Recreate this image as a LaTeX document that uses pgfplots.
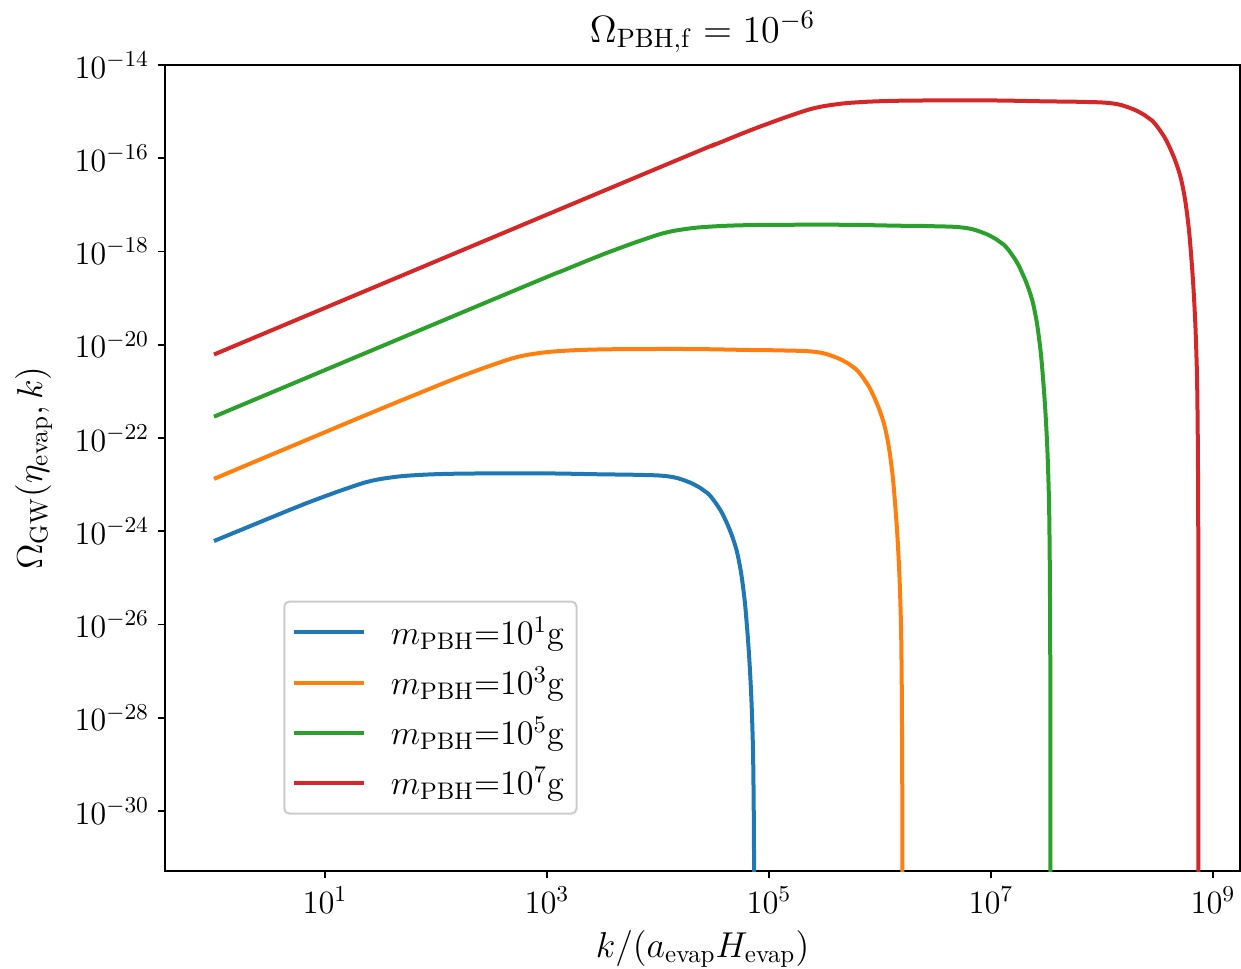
\RequirePackage{fix-cm}
\documentclass[border=0pt]{standalone}
\usepackage{pgfplots}
\pgfplotsset{compat=1.18}
\usetikzlibrary{calc}
\definecolor{c0}{HTML}{1F77B4}
\definecolor{c1}{HTML}{FF7F0E}
\definecolor{c2}{HTML}{2CA02C}
\definecolor{c3}{HTML}{D62728}
\begin{document}
\begin{tikzpicture}
\begin{axis}[
  name=ax,
  at={(0,0)}, anchor=south west,
  scale only axis,
  width=430pt, height=322.4pt,
  xmode=log, ymode=log,
  xmin=0.362, xmax=1.75e9,
  ymin=5.15e-32, ymax=1e-14,
  xtick={10,1000,100000,10000000,1000000000},
  ytick={1e-30,1e-28,1e-26,1e-24,1e-22,1e-20,1e-18,1e-16,1e-14},
  xminorticks=false, yminorticks=false,
  xtick pos=bottom, ytick pos=left,
  tick align=outside,
  major tick length=2.8pt,
  every tick/.style={black, line width=0.64pt},
  axis line style={line width=0.8pt},
  tick label style={font=\fontsize{13}{15}\selectfont},
  label style={font=\fontsize{14.4}{17}\selectfont},
  ylabel style={yshift=2pt},
  title style={font=\fontsize{15.2}{18}\selectfont, at={(0.5,1)}, anchor=base, yshift=3.2pt},
  title={$\Omega_{\rm PBH,f} = 10^{-6}$},
  xlabel={$k/(a_{\rm evap}H_{\rm evap})$},
  ylabel={$\Omega_{\rm GW}(\eta_{\rm evap}, k)$},
  legend style={at={(0.11,0.07)}, anchor=south west, draw=black!20,
    rounded corners=2pt, line width=0.8pt, inner ysep=4pt, inner xsep=3pt,
    font=\fontsize{13.7}{16}\selectfont, row sep=3.4pt},
  legend cell align=left,
  legend image code/.code={\draw[#1] (0pt,0pt) -- (28pt,0pt); \path (36pt,0pt);},
  every axis plot/.append style={line width=1.6pt, smooth, tension=0.7},
]
\addplot[c0] coordinates {
(1,6.166e-25) (3.162,1.905e-24) (6.310,3.715e-24) (10,5.623e-24)
(15.85,8.318e-24) (25.12,1.175e-23) (39.81,1.429e-23) (63.10,1.585e-23)
(125.9,1.698e-23) (316.2,1.738e-23) (1000,1.738e-23) (3162,1.660e-23)
(6310,1.622e-23) (12023,1.514e-23) (17783,1.202e-23) (23988,8.511e-24)
(28184,6.457e-24) (33884,3.715e-24) (39811,1.905e-24) (47863,6.457e-25)
(53703,2.239e-25) (58884,5.370e-26) (63096,1.0e-26) (67608,8.913e-28)
(70795,6.310e-29) (72444,3.981e-30) (73451,3.162e-32) (73790,1.0e-34)
};
\addlegendentry{$m_{\rm PBH}$=$10^{1}$g}
\addplot[c1] coordinates {
(1,1.327e-23) (21.54,2.864e-22) (68.13,8.851e-22) (135.9,1.726e-21)
(215.4,2.612e-21) (341.5,3.864e-21) (541.2,5.458e-21) (857.7,6.637e-21)
(1359,7.362e-21) (2712,7.889e-21) (6813,8.072e-21) (21544,8.072e-21)
(68129,7.709e-21) (135943,7.534e-21) (259023,7.031e-21) (383117,5.585e-21)
(516797,3.954e-21) (607196,2.999e-21) (729997,1.726e-21) (857688,8.851e-22)
(1031160,2.999e-22) (1156977,1.040e-22) (1268597,2.495e-23) (1359340,4.645e-24)
(1456547,4.140e-25) (1525208,2.931e-26) (1560733,1.849e-27) (1582428,1.469e-29)
(1589732,4.645e-32) (1591000,1e-34)
};
\addlegendentry{$m_{\rm PBH}$=$10^{3}$g}
\addplot[c2] coordinates {
(1,2.864e-22) (464.2,1.327e-19) (1467.7,4.102e-19) (2928.8,7.998e-19)
(4641.6,1.211e-18) (7357,1.791e-18) (11660,2.529e-18) (18478,3.076e-18)
(29288,3.412e-18) (58438,3.656e-18) (146767,3.741e-18) (464159,3.741e-18)
(1467674,3.573e-18) (2928849,3.491e-18) (5580596,3.258e-18) (8254157,2.588e-18)
(11134270,1.832e-18) (13081885,1.390e-18) (15727597,7.998e-19) (18478674,4.102e-19)
(22216090,1.390e-19) (24926784,4.819e-20) (27331597,1.156e-20) (29286639,2.153e-21)
(31380929,1.919e-22) (32860207,1.358e-23) (33625607,8.570e-25) (34093016,6.808e-27)
(34250366,2.153e-29) (34260000,1e-34)
};
\addlegendentry{$m_{\rm PBH}$=$10^{5}$g}
\addplot[c3] coordinates {
(1,6.166e-21) (1e4,6.166e-17) (3.162e4,1.905e-16) (6.310e4,3.715e-16)
(1e5,5.623e-16) (1.585e5,8.318e-16) (2.512e5,1.175e-15) (3.981e5,1.429e-15)
(6.310e5,1.585e-15) (1.259e6,1.698e-15) (3.162e6,1.738e-15) (1e7,1.738e-15)
(3.162e7,1.660e-15) (6.310e7,1.622e-15) (1.2023e8,1.514e-15) (1.7783e8,1.202e-15)
(2.3988e8,8.511e-16) (2.8184e8,6.457e-16) (3.3884e8,3.715e-16) (3.9811e8,1.905e-16)
(4.7863e8,6.457e-17) (5.3703e8,2.239e-17) (5.8884e8,5.370e-18) (6.3096e8,1.0e-18)
(6.7608e8,8.913e-20) (7.0795e8,6.310e-21) (7.2444e8,3.981e-22) (7.3451e8,3.162e-24)
(7.3790e8,1.0e-26) (7.385e8,1e-34)
};
\addlegendentry{$m_{\rm PBH}$=$10^{7}$g}
\end{axis}
\pgfresetboundingbox
\path ($(ax.south west)+(-66pt,-38.8pt)$) rectangle ($(ax.north east)+(0.4pt,26pt)$);
\end{tikzpicture}
\end{document}
